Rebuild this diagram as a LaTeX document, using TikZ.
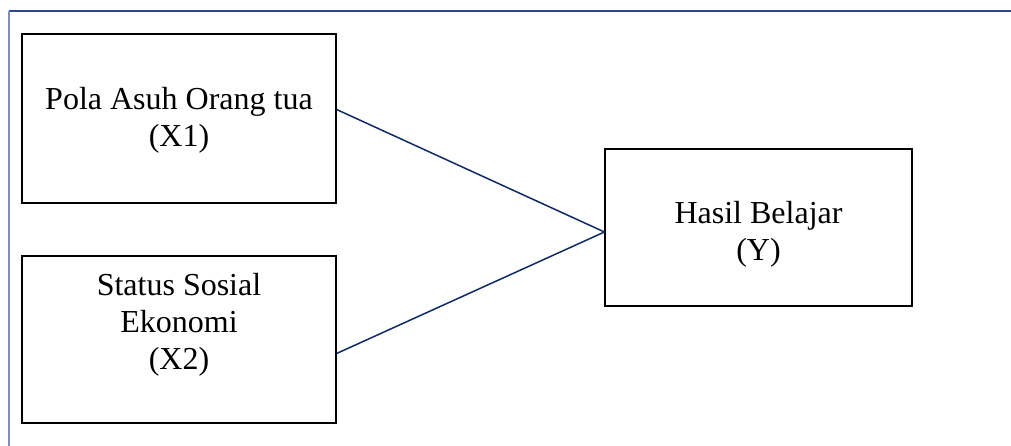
\documentclass[tikz,border=0pt]{standalone}
\usepackage{fontspec}
\setmainfont{Liberation Serif}
\definecolor{frametop}{HTML}{2E4A8C}
\definecolor{frameleft}{HTML}{8090B8}
\definecolor{linknavy}{HTML}{0F2A66}
\begin{document}
\begin{tikzpicture}[x=1pt,y=-1pt,
  varbox/.style={draw=black,line width=1.2pt,inner sep=0pt},
  vartext/.style={font=\fontsize{32}{37}\selectfont,align=center,anchor=base,inner sep=0pt},
  link/.style={draw=linknavy,line width=1.5pt}]
\useasboundingbox (0,0) rectangle (1011,446);
\draw[frametop,line width=1.4pt] (8.5,11) -- (1011,11);
\draw[frameleft,line width=2pt] (8.5,11) -- (8.5,446);
\node[varbox,minimum width=314pt,minimum height=169pt] (x1) at (179,118.5) {};
\node[vartext] (x1t) at (179,146.5) {Pola Asuh Orang tua\\(X1)};
\node[varbox,minimum width=314pt,minimum height=167pt] (x2) at (179,339.5) {};
\node[vartext] (x2t) at (179,369) {Status Sosial\\Ekonomi\\(X2)};
\node[varbox,minimum width=307pt,minimum height=157pt] (y) at (758.5,227.5) {};
\node[vartext] (yt) at (758.5,261) {Hasil Belajar\\(Y)};
\coordinate (ym) at (y.west |- 0,232);
\draw[link] (x1.east |- 0,109.5) -- (ym);
\draw[link] (x2.east |- 0,353.5) -- (ym);
\end{tikzpicture}
\end{document}
